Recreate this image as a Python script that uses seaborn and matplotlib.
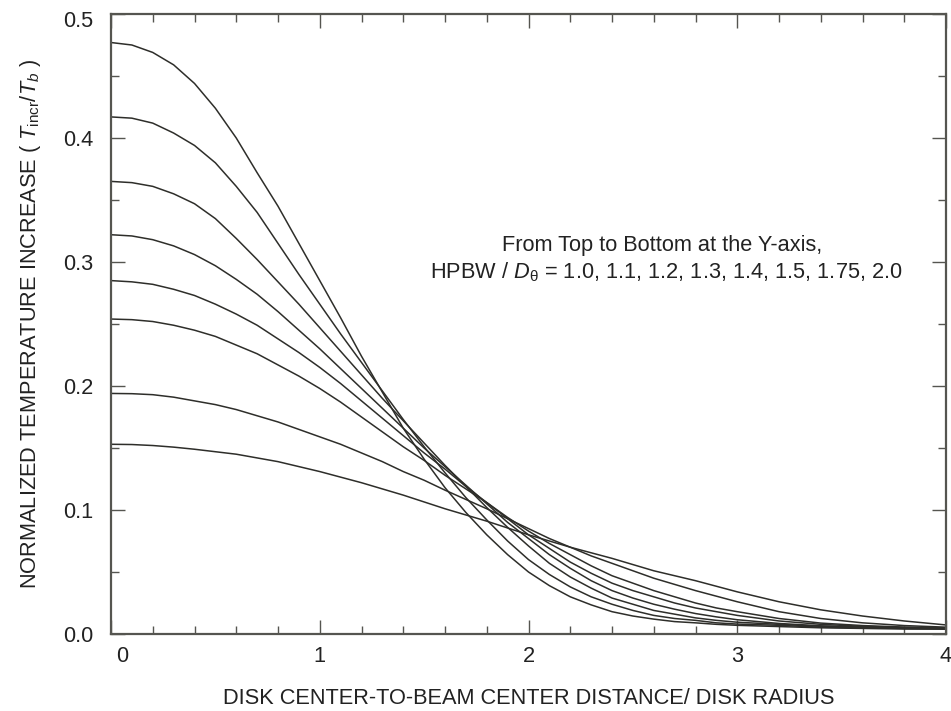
import matplotlib
matplotlib.use("Agg")
import matplotlib.pyplot as plt
import matplotlib.transforms as mtransforms
from matplotlib.ticker import MultipleLocator, FixedLocator, FixedFormatter
import seaborn as sns
import pandas as pd

# ---- data ----
distance = [0.0, 0.1, 0.2, 0.3, 0.4, 0.5, 0.6, 0.7, 0.8, 0.9,
            1.0, 1.1, 1.2, 1.3, 1.4, 1.5, 1.6, 1.7, 1.8, 1.9,
            2.0, 2.1, 2.2, 2.3, 2.4, 2.5, 2.6, 2.7, 2.8, 2.9,
            3.0, 3.2, 3.4, 3.6, 3.8, 4.0]

hpbw_ratios = ["1.0", "1.1", "1.2", "1.3", "1.4", "1.5", "1.75", "2.0"]

t_hpbw_1_00 = [0.477, 0.475, 0.469, 0.459, 0.444, 0.424, 0.400, 0.372, 0.345, 0.315,
               0.285, 0.255, 0.224, 0.195, 0.166, 0.141, 0.118, 0.098, 0.080, 0.064,
               0.050, 0.039, 0.030, 0.0235, 0.018, 0.0145, 0.012, 0.010, 0.009, 0.0078,
               0.007, 0.006, 0.005, 0.0045, 0.004, 0.004]
t_hpbw_1_10 = [0.417, 0.416, 0.412, 0.404, 0.394, 0.380, 0.361, 0.340, 0.315, 0.290,
               0.266, 0.242, 0.219, 0.196, 0.173, 0.151, 0.130, 0.110, 0.092, 0.075,
               0.060, 0.048, 0.038, 0.030, 0.024, 0.019, 0.015, 0.0125, 0.011, 0.009,
               0.008, 0.007, 0.0055, 0.005, 0.0045, 0.004]
t_hpbw_1_20 = [0.365, 0.364, 0.361, 0.355, 0.347, 0.335, 0.319, 0.302, 0.284, 0.266,
               0.247, 0.228, 0.209, 0.190, 0.172, 0.154, 0.136, 0.119, 0.102, 0.086,
               0.071, 0.057, 0.046, 0.037, 0.029, 0.024, 0.019, 0.016, 0.013, 0.011,
               0.0095, 0.0078, 0.0062, 0.0052, 0.0046, 0.0042]
t_hpbw_1_30 = [0.322, 0.321, 0.318, 0.313, 0.306, 0.297, 0.286, 0.274, 0.260, 0.245,
               0.230, 0.214, 0.198, 0.182, 0.166, 0.150, 0.135, 0.120, 0.105, 0.090,
               0.077, 0.064, 0.053, 0.043, 0.035, 0.029, 0.024, 0.020, 0.0165, 0.0138,
               0.0115, 0.0085, 0.0066, 0.0056, 0.005, 0.0045]
t_hpbw_1_40 = [0.285, 0.284, 0.282, 0.278, 0.273, 0.266, 0.258, 0.249, 0.238, 0.227,
               0.215, 0.202, 0.188, 0.174, 0.160, 0.146, 0.133, 0.119, 0.106, 0.093,
               0.080, 0.069, 0.058, 0.049, 0.041, 0.035, 0.030, 0.025, 0.021, 0.018,
               0.015, 0.0105, 0.0078, 0.0062, 0.0052, 0.0046]
t_hpbw_1_50 = [0.254, 0.2535, 0.252, 0.249, 0.245, 0.240, 0.233, 0.226, 0.217, 0.208,
               0.198, 0.187, 0.175, 0.163, 0.151, 0.140, 0.128, 0.117, 0.106, 0.094,
               0.083, 0.073, 0.064, 0.055, 0.047, 0.041, 0.035, 0.030, 0.025, 0.021,
               0.018, 0.0125, 0.0088, 0.0068, 0.0056, 0.005]
t_hpbw_1_75 = [0.194, 0.1938, 0.193, 0.191, 0.188, 0.185, 0.181, 0.176, 0.171, 0.165,
               0.159, 0.153, 0.146, 0.139, 0.131, 0.124, 0.116, 0.1085, 0.101, 0.093,
               0.085, 0.077, 0.070, 0.063, 0.057, 0.051, 0.045, 0.040, 0.035, 0.0305,
               0.026, 0.018, 0.0125, 0.009, 0.0068, 0.0055]
t_hpbw_2_00 = [0.153, 0.1528, 0.152, 0.1507, 0.149, 0.147, 0.145, 0.142, 0.139, 0.135,
               0.131, 0.1265, 0.122, 0.117, 0.112, 0.1065, 0.101, 0.096, 0.091, 0.0855,
               0.080, 0.075, 0.070, 0.0655, 0.061, 0.056, 0.051, 0.047, 0.043, 0.0385,
               0.034, 0.026, 0.0195, 0.0145, 0.0105, 0.0073]

series = [t_hpbw_1_00, t_hpbw_1_10, t_hpbw_1_20, t_hpbw_1_30,
          t_hpbw_1_40, t_hpbw_1_50, t_hpbw_1_75, t_hpbw_2_00]

x_tick_labels = ["0", "1", "2", "3", "4"]
y_tick_labels = ["0.0", "0.1", "0.2", "0.3", "0.4", "0.5"]

rows = []
for ratio, vals in zip(hpbw_ratios, series):
    for d, v in zip(distance, vals):
        rows.append({"distance": d, "tincr": v, "hpbw": ratio})
df = pd.DataFrame(rows)

# ---- styling ----
sns.set_theme(style="ticks")
plt.rcParams["font.family"] = ["Liberation Sans", "DejaVu Sans"]
plt.rcParams["mathtext.fontset"] = "custom"
plt.rcParams["mathtext.rm"] = "Liberation Sans"
plt.rcParams["mathtext.it"] = "Liberation Sans:italic"
plt.rcParams["mathtext.bf"] = "Liberation Sans:bold"

FS = 15.7
line_color = "#2e2e2a"
spine_color = "#555550"
text_color = "#222222"

fig = plt.figure(figsize=(9.51, 7.11), dpi=100)
ax = fig.add_axes([111 / 951, 77 / 711, (946 - 111) / 951, (634 - 14) / 711])

sns.lineplot(data=df, x="distance", y="tincr", hue="hpbw",
             palette=[line_color] * len(hpbw_ratios), legend=False,
             linewidth=1.1, ax=ax, sort=False)

ax.set_xlim(0, 4)
ax.set_ylim(0, 0.5)

ax.xaxis.set_major_locator(FixedLocator([0, 1, 2, 3, 4]))
ax.xaxis.set_major_formatter(FixedFormatter(x_tick_labels))
ax.xaxis.set_minor_locator(MultipleLocator(0.2))
ax.yaxis.set_major_locator(FixedLocator([0.0, 0.1, 0.2, 0.3, 0.4, 0.5]))
ax.yaxis.set_major_formatter(FixedFormatter(y_tick_labels))
ax.yaxis.set_minor_locator(MultipleLocator(0.05))

ax.tick_params(which="both", direction="in", top=True, right=True,
               color=spine_color, width=1.0)
ax.tick_params(which="major", length=10, labelsize=FS)
ax.tick_params(which="minor", length=6)
ax.tick_params(axis="x", which="major", pad=9)
ax.tick_params(axis="y", which="major", pad=13)

for s in ax.spines.values():
    s.set_color(spine_color)
    s.set_linewidth(1.6)

ax.set_xlabel("DISK CENTER-TO-BEAM CENTER DISTANCE/ DISK RADIUS",
              fontsize=FS, labelpad=15, color=text_color)
ax.set_ylabel(r"NORMALIZED TEMPERATURE INCREASE ( $T_{\mathrm{incr}}/T_b$ )",
              fontsize=FS, labelpad=14, color=text_color)

ax.text(2.64, 0.313, "From Top to Bottom at the Y-axis,",
        fontsize=FS, ha="center", va="center", color=text_color)
ax.text(2.66, 0.292,
        r"HPBW / $D_{\mathrm{\theta}}$ = 1.0, 1.1, 1.2, 1.3, 1.4, 1.5, 1.75, 2.0",
        fontsize=FS, ha="center", va="center", color=text_color)

# small offsets of the end tick labels as in the reference
xl = ax.get_xticklabels()
xl[0].set_transform(xl[0].get_transform() +
                    mtransforms.ScaledTranslation(0.11, 0, fig.dpi_scale_trans))
yl = ax.get_yticklabels()
yl[-1].set_transform(yl[-1].get_transform() +
                     mtransforms.ScaledTranslation(0, -0.05, fig.dpi_scale_trans))
for t in xl + yl:
    t.set_color(text_color)

fig.savefig("out.png", dpi=100)
